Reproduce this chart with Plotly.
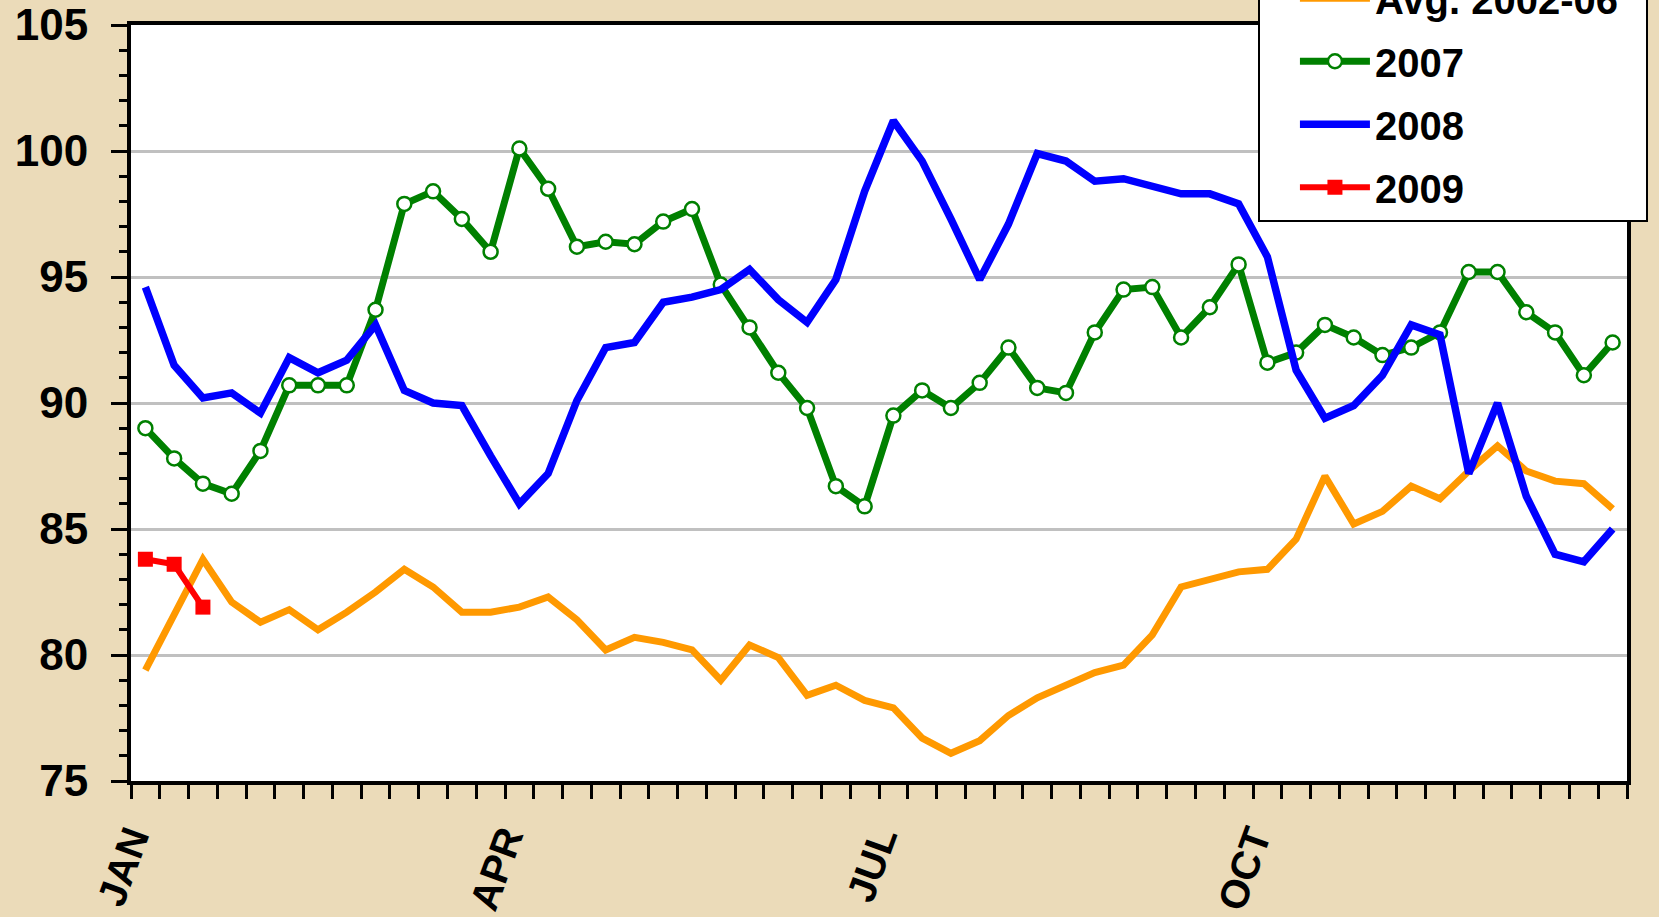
import plotly.graph_objects as go

# ---------------- data ----------------
weeks = list(range(1, 53))

avg_2002_06 = [79.4, 81.6, 83.8, 82.1, 81.3, 81.8, 81.0, 81.7, 82.5, 83.4,
               82.7, 81.7, 81.7, 81.9, 82.3, 81.4, 80.2, 80.7, 80.5, 80.2,
               79.0, 80.4, 79.9, 78.4, 78.8, 78.2, 77.9, 76.7, 76.1, 76.6,
               77.6, 78.3, 78.8, 79.3, 79.6, 80.8, 82.7, 83.0, 83.3, 83.4,
               84.6, 87.1, 85.2, 85.7, 86.7, 86.2, 87.3, 88.3, 87.3, 86.9,
               86.8, 85.8]

y2007 = [89.0, 87.8, 86.8, 86.4, 88.1, 90.7, 90.7, 90.7, 93.7, 97.9,
         98.4, 97.3, 96.0, 100.1, 98.5, 96.2, 96.4, 96.3, 97.2, 97.7,
         94.7, 93.0, 91.2, 89.8, 86.7, 85.9, 89.5, 90.5, 89.8, 90.8,
         92.2, 90.6, 90.4, 92.8, 94.5, 94.6, 92.6, 93.8, 95.5, 91.6,
         92.0, 93.1, 92.6, 91.9, 92.2, 92.8, 95.2, 95.2, 93.6, 92.8,
         91.1, 92.4]

y2008 = [94.6, 91.5, 90.2, 90.4, 89.6, 91.8, 91.2, 91.7, 93.1, 90.5,
         90.0, 89.9, 87.9, 86.0, 87.2, 90.1, 92.2, 92.4, 94.0, 94.2,
         94.5, 95.3, 94.1, 93.2, 94.9, 98.4, 101.2, 99.6, 97.3, 94.9,
         97.1, 99.9, 99.6, 98.8, 98.9, 98.6, 98.3, 98.3, 97.9, 95.8,
         91.3, 89.4, 89.9, 91.1, 93.1, 92.7, 87.2, 90.0, 86.3, 84.0,
         83.7, 85.0]

y2009 = [83.8, 83.6, 81.9]

series_names = ["Avg. 2002-06", "2007", "2008", "2009"]
month_labels = ["JAN", "APR", "JUL", "OCT"]
month_start_weeks = [1, 14, 27, 40]
y_tick_values = [75, 80, 85, 90, 95, 100, 105]

# ---------------- figure ----------------
FONT = "Liberation Sans, Arial, Helvetica, sans-serif"
PAD = "\u00a0\u00a0"  # right padding inside the legend box

week_boundaries = [w - 0.5 for w in range(1, len(weeks) + 2)]
label_lookup = {w - 0.5: m for w, m in zip(month_start_weeks, month_labels)}
x_ticktext = [label_lookup.get(b, "") for b in week_boundaries]

fig = go.Figure()

fig.add_trace(go.Scatter(
    x=weeks, y=avg_2002_06, name=series_names[0] + PAD, mode="lines",
    line=dict(color="#FF9900", width=7), legendgroup="a"))

fig.add_trace(go.Scatter(
    x=weeks, y=y2007, name=series_names[1], mode="lines+markers",
    line=dict(color="#008000", width=7),
    marker=dict(symbol="circle", size=14, color="white",
                line=dict(color="#008000", width=2.5)),
    legendgroup="b"))

fig.add_trace(go.Scatter(
    x=weeks, y=y2008, name=series_names[2], mode="lines",
    line=dict(color="#0000FF", width=7.5), legendgroup="c"))

fig.add_trace(go.Scatter(
    x=weeks[:len(y2009)], y=y2009, name=series_names[3], mode="lines+markers",
    line=dict(color="#FF0000", width=6),
    marker=dict(symbol="square", size=15, color="#FF0000"),
    legendgroup="d"))

fig.update_layout(
    width=1659, height=917, autosize=False,
    paper_bgcolor="#EBDBB9",
    plot_bgcolor="white",
    margin=dict(l=131, r=32, t=25, b=136, autoexpand=False),
    font=dict(family=FONT, size=40, color="black", weight="bold"),
    showlegend=True,
    legend=dict(
        x=0.7533, y=0.7398, xanchor="left", yanchor="bottom",
        bgcolor="white", bordercolor="black", borderwidth=2,
        font=dict(family=FONT, size=40, color="black", weight="bold"),
        itemwidth=70, traceorder="grouped", tracegroupgap=8,
        indentation=35,
    ),
    xaxis=dict(
        range=[0.5, len(weeks) + 0.5],
        tickmode="array", tickvals=week_boundaries, ticktext=x_ticktext,
        ticks="outside", ticklen=14, tickwidth=2.5, tickcolor="black",
        tickangle=-70,
        tickfont=dict(family=FONT, size=40, color="black", weight="bold"),
        showgrid=False, zeroline=False,
        showline=True, linecolor="black", linewidth=4, mirror=True,
    ),
    yaxis=dict(
        range=[75, 105],
        tickmode="array", tickvals=y_tick_values,
        ticks="outside", ticklen=16, tickwidth=2.5, tickcolor="black",
        tickfont=dict(family=FONT, size=44, color="black", weight="bold"),
        ticklabelstandoff=14,
        minor=dict(dtick=1, tick0=75, ticks="outside", ticklen=8,
                   tickwidth=2.5, tickcolor="black", showgrid=False),
        showgrid=True, gridcolor="#C0C0C0", gridwidth=2.5,
        zeroline=False,
        showline=True, linecolor="black", linewidth=4, mirror=True,
    ),
)

fig.write_html(
    "out.html",
    config={"displayModeBar": False},
    post_script="document.body.style.margin='0';document.body.style.overflow='hidden';",
)
